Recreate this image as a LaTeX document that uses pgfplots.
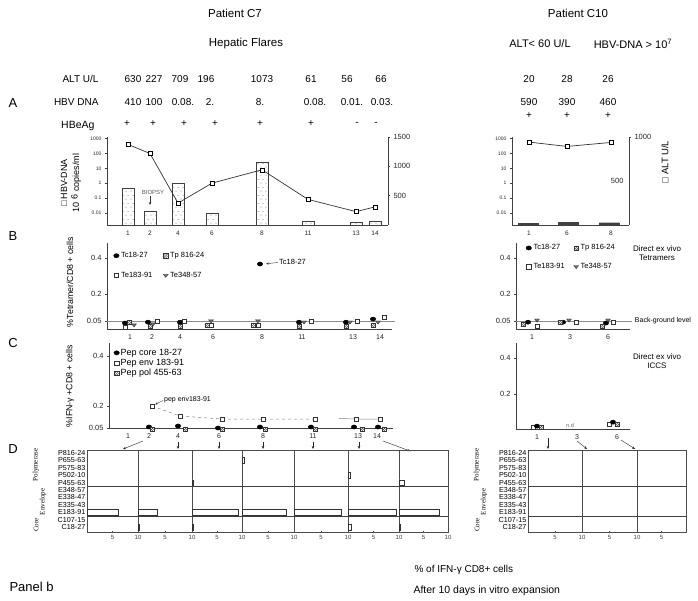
\documentclass[border=0pt]{standalone}
\usepackage{fontspec}
\setmainfont{Liberation Sans}
\newfontfamily\seriffont{Liberation Serif}
\usepackage{pgfplots}
\pgfplotsset{compat=1.18}
\usetikzlibrary{arrows.meta,patterns}

\newcommand\fs[2]{\fontsize{#1}{#2}\selectfont}

% sparse dots for the ALT bars
\pgfdeclarepatternformonly{sdots}{\pgfqpoint{0pt}{0pt}}{\pgfqpoint{5pt}{8pt}}{\pgfqpoint{5pt}{8pt}}{%
  \pgfpathcircle{\pgfqpoint{1.2pt}{2pt}}{0.55pt}%
  \pgfpathcircle{\pgfqpoint{3.7pt}{6pt}}{0.55pt}%
  \pgfusepath{fill}}

% crossed square and down triangle marks
\pgfdeclareplotmark{xsq}{%
  \pgfpathrectangle{\pgfqpoint{-\pgfplotmarksize}{-\pgfplotmarksize}}{\pgfqpoint{2\pgfplotmarksize}{2\pgfplotmarksize}}%
  \pgfusepathqfillstroke
  \pgfpathmoveto{\pgfqpoint{-\pgfplotmarksize}{-\pgfplotmarksize}}\pgfpathlineto{\pgfqpoint{\pgfplotmarksize}{\pgfplotmarksize}}%
  \pgfpathmoveto{\pgfqpoint{-\pgfplotmarksize}{0pt}}\pgfpathlineto{\pgfqpoint{0pt}{\pgfplotmarksize}}%
  \pgfpathmoveto{\pgfqpoint{0pt}{-\pgfplotmarksize}}\pgfpathlineto{\pgfqpoint{\pgfplotmarksize}{0pt}}%
  \pgfusepathqstroke}
\pgfdeclareplotmark{vtri}{%
  \pgfpathmoveto{\pgfqpoint{-\pgfplotmarksize}{0.5\pgfplotmarksize}}%
  \pgfpathlineto{\pgfqpoint{\pgfplotmarksize}{0.5\pgfplotmarksize}}%
  \pgfpathlineto{\pgfqpoint{0pt}{-0.8\pgfplotmarksize}}\pgfpathclose
  \pgfusepathqfillstroke}

\pgfplotsset{
  every axis/.append style={scale only axis, anchor=south west, clip=false,
    axis line style={black!75, line width=0.5pt}, tick style={black!75, line width=0.4pt},
    major tick length=2pt, tick align=outside, ticklabel style={text=black!85},
    /pgf/number format/assume math mode=true, /pgf/number format/1000 sep={}},
  circ/.style={only marks, mark=*, mark size=2.1pt, mark options={xscale=1.3, fill=black, draw=black}},
  sq/.style={only marks, mark=square*, mark size=2.1pt, mark options={fill=white, draw=black!80, line width=0.4pt}},
  xs/.style={only marks, mark=xsq, mark size=2.1pt, mark options={fill=white, draw=black!80, line width=0.4pt}},
  tri/.style={only marks, mark=vtri, mark size=2.4pt, mark options={fill=black!55, draw=black!80, line width=0.4pt}},
  leg/.style={legend image code/.code={\draw[##1] plot coordinates {(0pt,0pt)};}, legend cell align=left},
  dstyle/.style={height=82pt, xmin=0, xmax=10, ymin=0.32, ymax=11.4, xbar, bar width=0.75,
    ytick=\empty, tick pos=left, tick align=inside, major tick length=1.5pt,
    xticklabel style={font=\fs{6}{7}, text=black!75},
    axis line style={black!70, line width=0.45pt}},
  dlab/.style={ytick={1,...,11},
    yticklabels={C18-27,C107-15,E183-91,E335-43,E338-47,E348-57,P455-63,P502-10,P575-83,P655-63,P816-24},
    yticklabel style={font=\fs{7.2}{7.2}, inner sep=1.5pt, text=black}, ytick style={draw=none}},
}

\newcommand\Dsub[5][]{%
  \begin{axis}[dstyle, at={(#2pt,-532pt)}, width=#3pt, xtick={#4}, #1]
  \addplot[fill=white, draw=black!80, line width=0.4pt] coordinates {#5};
  \draw[black!75, line width=0.4pt] (axis cs:0,6.5) -- (axis cs:10,6.5) (axis cs:0,2.5) -- (axis cs:10,2.5);
  \end{axis}}
\newcommand\Dnil[4][]{%
  \begin{axis}[dstyle, at={(#2pt,-532pt)}, width=#3pt, xtick={#4}, #1]
  \draw[black!75, line width=0.4pt] (axis cs:0,6.5) -- (axis cs:10,6.5) (axis cs:0,2.5) -- (axis cs:10,2.5);
  \end{axis}}

\begin{document}
\begin{tikzpicture}[x=1pt,y=-1pt]
\useasboundingbox (0,0) rectangle (698,601);

% ---------- headings
\node[font=\fs{11.5}{13}] at (235,13) {Patient C7};
\node[font=\fs{11.5}{13}] at (246,44) {Hepatic Flares};
\node[font=\fs{11.5}{13}] at (578,13) {Patient C10};
\node[font=\fs{11}{13}] at (540,44) {ALT< 60 U/L};
\node[font=\fs{11}{13}] at (633,44) {HBV-DNA > 10\textsuperscript{7}};

\node[font=\fs{10}{12}, anchor=east] at (102,79) {ALT U/L};
\node[font=\fs{10}{12}, anchor=east] at (102,102) {HBV DNA};
\node[font=\fs{10.5}{12}, anchor=east] at (98,126) {HBeAg};
\foreach \x/\t in {133/630,154/227,180/709,206/196,262/1073,311/61,347/56,381/66,529/20,567/28,608/26}
  \node[font=\fs{10}{12}] at (\x,79) {\t};
\foreach \x/\t in {133/410,154/100,183/0.08.,210/2.,260/8.,315/0.08.,352/0.01.,382/0.03.,529/590,567/390,608/460}
  \node[font=\fs{10}{12}] at (\x,102) {\t};
\foreach \x/\t in {127/+,153/+,184/+,215/+,260/+,311/+,357/-,376/-}
  \node[font=\fs{10}{12}] at (\x,124) {\t};
\foreach \x in {529,567,608}
  \node[font=\fs{10}{12}] at (\x,116) {+};

\foreach \l/\y in {A/103,B/236,C/343,D/449}
  \node[font=\fs{13}{15}] at (13,\y) {\l};
\node[font=\fs{13}{15}, anchor=west] at (6,587) {Panel b};

% ---------- panel A, patient C7
\begin{axis}[at={(107pt,-225pt)}, width=281pt, height=88pt,
  ymin=0, ymax=1500, xmin=107, xmax=388,
  axis x line=none, axis y line*=right,
  ytick={500,1000,1500}, yticklabel style={font=\fs{7.5}{8}},
  ybar, bar width=12]
\addplot[fill=white, draw=black!75, line width=0.4pt, postaction={pattern=sdots, pattern color=black!70}]
  coordinates {(128,630) (150,227) (178,709) (212,196) (262,1073) (308,61) (356,56) (375,66)};
\end{axis}
\begin{axis}[at={(107pt,-225pt)}, width=281pt, height=88pt,
  ymode=log, ymin=0.0015, ymax=1300, xmin=107, xmax=388,
  axis x line*=bottom, axis y line*=left, yminorticks=false,
  ytick={0.01,0.1,1,10,100,1000}, yticklabels={0.01,0.1,1,10,100,1000},
  yticklabel style={font=\fs{5}{6}},
  xtick={128,150,178,212,262,308,356,375}, xticklabels={1,2,4,6,8,11,13,14},
  xticklabel style={font=\fs{6.5}{7}}, xtick style={draw=none}]
\addplot[black!80, line width=0.7pt, mark=square*, mark size=2pt,
  mark options={fill=white, draw=black, line width=0.4pt}]
  coordinates {(128,410) (150,100) (178,0.045) (212,1) (262,8) (308,0.08) (356,0.012) (375,0.025)};
\end{axis}
\node[font=\fs{6}{7}, text=black!65] at (153,192) {BIOPSY};
\draw[-{Stealth[length=3pt,width=2.5pt]}, black!80, line width=0.4pt] (150,196) -- (150,205);
\node[rotate=90, align=center, font=\fs{9}{12}] at (71,183) {□ HBV-DNA\\10 \raisebox{1.5pt}{6} copies/ml};

% ---------- panel A, patient C10
\begin{axis}[at={(512pt,-225pt)}, width=117pt, height=88pt,
  ymin=0, ymax=1000, xmin=512, xmax=629,
  axis x line=none, axis y line*=right,
  ytick={1000}, yticklabel style={font=\fs{7.5}{8}},
  ybar, bar width=20]
\addplot[fill=black!75, draw=black!75] coordinates {(528,20) (568,28) (609,26)};
\node[font=\fs{7.5}{8}, text=black!85, anchor=east] at (axis cs:627,500) {500};
\end{axis}
\begin{axis}[at={(512pt,-225pt)}, width=117pt, height=88pt,
  ymode=log, ymin=0.0015, ymax=1300, xmin=512, xmax=629,
  axis x line*=bottom, axis y line*=left, yminorticks=false,
  ytick={0.01,0.1,1,10,100,1000}, yticklabels={0.01,0.1,1,10,100,1000},
  yticklabel style={font=\fs{5}{6}},
  xtick={529,567,611}, xticklabels={1,6,8},
  xticklabel style={font=\fs{6.5}{7}}, xtick style={draw=none}]
\addplot[black!80, line width=0.7pt, mark=square*, mark size=2pt,
  mark options={fill=white, draw=black, line width=0.4pt}]
  coordinates {(529,590) (567,300) (611,560)};
\end{axis}
\node[rotate=90, font=\fs{9.5}{11}] at (665,162) {□ ALT U/L};

% ---------- panel B, tetramers
\begin{axis}[at={(107pt,-329pt)}, width=285pt, height=86pt, leg,
  xmin=107, xmax=392, ymin=0.006, ymax=0.484,
  axis x line*=bottom, axis y line*=left,
  ytick={0.05,0.2,0.4}, yticklabels={0.05,0.2,0.4}, yticklabel style={font=\fs{7.5}{8}},
  xtick={130,152,180,213,262,302,353,380}, xticklabels={1,2,4,6,8,11,13,14},
  xticklabel style={font=\fs{7}{8}}, xtick style={draw=none},
  legend columns=2,
  legend style={draw=none, fill=none, at={(axis description cs:0.012,0.94)}, anchor=north west,
    font=\fs{7.5}{9}, row sep=9pt, /tikz/every even column/.append style={column sep=9pt}}]
\draw[black!45, line width=0.5pt] (axis cs:107,0.05) -- (axis cs:395,0.05);
\addplot[circ] coordinates {(125,0.039) (148,0.044) (180,0.044) (260,0.367) (299,0.044) (346,0.044) (373,0.061)};
\addplot[xs] coordinates {(129,0.044) (150,0.022) (180,0.022) (207,0.028) (253,0.028) (299,0.022) (346,0.022) (373,0.028)};
\addplot[sq] coordinates {(125,0.017) (157,0.05) (184,0.05) (211,0.028) (258,0.028) (311,0.05) (357,0.05) (384,0.072)};
\addplot[tri] coordinates {(134,0.028) (153,0.033) (211,0.05) (258,0.05) (304,0.044) (350,0.044) (378,0.044)};
\legend{Tc18-27, Tp 816-24, Te183-91, Te348-57}
\draw[-{Stealth[length=3pt,width=2pt]}, black!80, line width=0.4pt] (axis cs:278,0.376) -- (axis cs:266,0.368);
\node[anchor=west, font=\fs{7.5}{9}, inner sep=1pt] at (axis cs:278,0.378) {Tc18-27};
\end{axis}
\node[rotate=90, font=\fs{8.8}{10}] at (70,282) {\%Tetramer/CD8 + cells};

\begin{axis}[at={(516pt,-329pt)}, width=114pt, height=86pt, leg,
  xmin=516, xmax=630, ymin=0.006, ymax=0.484,
  axis x line*=bottom, axis y line*=left,
  ytick={0.05,0.2,0.4}, yticklabels={0.05,0.2,0.4}, yticklabel style={font=\fs{7.5}{8}},
  xtick={532,570,608}, xticklabels={1,3,6},
  xticklabel style={font=\fs{7}{8}}, xtick style={draw=none},
  legend columns=2,
  legend style={draw=none, fill=none, at={(axis description cs:0.06,1.03)}, anchor=north west,
    font=\fs{7.5}{9}, row sep=8pt, /tikz/every even column/.append style={column sep=7pt}}]
\draw[black!45, line width=0.5pt] (axis cs:516,0.05) -- (axis cs:632,0.05);
\addplot[circ] coordinates {(528,0.044) (563,0.044) (606,0.039)};
\addplot[xs] coordinates {(523,0.033) (560,0.044) (602,0.022)};
\addplot[sq] coordinates {(537,0.022) (576,0.044) (613,0.044)};
\addplot[tri] coordinates {(537,0.055) (569,0.055) (608,0.055)};
\legend{Tc18-27, Tp 816-24, Te183-91, Te348-57}
\end{axis}
\node[font=\fs{8}{9}, align=center] at (657,253) {Direct ex vivo\\Tetramers};
\node[font=\fs{7}{8}] at (663,321) {Back-ground level};

% ---------- panel C, ICCS
\begin{axis}[at={(109pt,-428pt)}, width=284pt, height=85pt, leg,
  xmin=109, xmax=393, ymin=0.112, ymax=0.452,
  axis x line*=bottom, axis y line*=left,
  ytick={0.112,0.2,0.4}, yticklabels={0.05,0.2,0.4}, yticklabel style={font=\fs{7.5}{8}},
  xtick={128,149,178,219,263,313,358,377}, xticklabels={1,2,4,6,8,11,13,14},
  xticklabel style={font=\fs{7}{8}}, xtick style={draw=none},
  legend style={draw=none, fill=none, at={(axis description cs:0.006,0.97)}, anchor=north west,
    font=\fs{9}{10}, row sep=0pt, nodes={inner sep=1.2pt}}]
\addplot[circ] coordinates {(149,0.116) (178,0.12) (218,0.112) (260,0.116) (311,0.116) (354,0.116) (378,0.116)};
\addplot[black!50, dashed, line width=0.5pt, mark=square*, mark size=2.1pt,
  mark options={solid, fill=white, draw=black!80, line width=0.4pt}]
  coordinates {(152,0.2) (180,0.16) (222,0.148) (263,0.148) (315,0.148)};
\addplot[xs] coordinates {(152,0.108) (185,0.108) (222,0.108) (265,0.108) (315,0.108) (362,0.108) (384,0.108)};
\legend{Pep core 18-27, Pep env 183-91, Pep pol 455-63}
\addplot[black!50, line width=0.5pt, mark=square*, mark size=2.1pt, mark indices={2,3}, forget plot,
  mark options={fill=white, draw=black!80, line width=0.4pt}]
  coordinates {(339,0.15) (356,0.148) (380,0.148)};
\draw[-{Stealth[length=3pt,width=2pt]}, black!80, line width=0.4pt] (axis cs:163,0.222) -- (axis cs:155,0.206);
\node[anchor=west, font=\fs{7}{8}, inner sep=1pt] at (axis cs:163,0.225) {pep env183-91};
\end{axis}
\node[rotate=90, font=\fs{8.8}{10}] at (70,386) {\%IFN-γ +CD8 + cells};

\begin{axis}[at={(516pt,-429pt)}, width=114pt, height=86pt,
  xmin=516, xmax=630, ymin=0.006, ymax=0.484,
  axis x line*=bottom, axis y line*=left,
  ytick={0.2,0.4}, yticklabel style={font=\fs{7.5}{8}},
  xtick={537,577,617}, xticklabels={1,3,6},
  xticklabel style={font=\fs{7}{8}}, xtick style={draw=none}]
\addplot[sq] coordinates {(533,0.017) (609,0.033)};
\addplot[circ] coordinates {(537,0.022) (613,0.044)};
\addplot[xs] coordinates {(541,0.017) (617,0.033)};
\node[font=\fs{5.5}{6}, text=black!60] at (axis cs:570,0.024) {n.d};
\end{axis}
\node[font=\fs{8}{9}, align=center] at (657,361) {Direct ex vivo\\ICCS};

% arrows to panel D
\begin{scope}[-{Stealth[length=3pt,width=2.5pt]}, black!85, line width=0.4pt]
\draw (143,441) -- (123,449);
\foreach \x in {178,219,263,313,359} \draw (\x,442) -- (\x,449);
\draw (383,441) -- (410,451);
\draw (548,438) -- (548,449);
\draw (577,441) -- (587,449);
\draw (621,440) -- (635,449);
\end{scope}

% ---------- panel D, after in vitro expansion
\Dsub[dlab]{87}{51}{5,10}{(6.1,3)}
\Dsub{138}{54}{5,10}{(3.5,3) (0.3,1)}
\Dsub{192}{50}{5,10}{(0.2,7) (9.2,3) (0.2,1)}
\Dsub{242}{52}{5,10}{(0.5,10) (8.5,3)}
\Dsub{294}{54}{5,10}{(8.7,3)}
\Dsub{348}{51}{5,10}{(0.5,8) (9.4,3) (0.6,1)}
\Dsub{399}{49}{5,10}{(1.1,7) (8.2,3) (0.3,1)}
\Dnil[dlab]{528}{54}{5,10}
\Dnil{582}{55}{5,10}
\Dnil{637}{49}{5}

\foreach \x in {36,477}{
  \node[rotate=90, font=\seriffont\fs{7}{8}] at (\x,465) {Polymerase};
  \node[rotate=90, font=\seriffont\fs{7}{8}] at (\x+7,502) {Envelope};
  \node[rotate=90, font=\seriffont\fs{7}{8}] at (\x,525) {Core};
}

\node[anchor=west, font=\fs{10}{12}] at (411,570) {\% of IFN-γ CD8+ cells};
\node[anchor=west, font=\fs{10.5}{12}] at (410,591) {After 10 days in vitro expansion};
\end{tikzpicture}
\end{document}
